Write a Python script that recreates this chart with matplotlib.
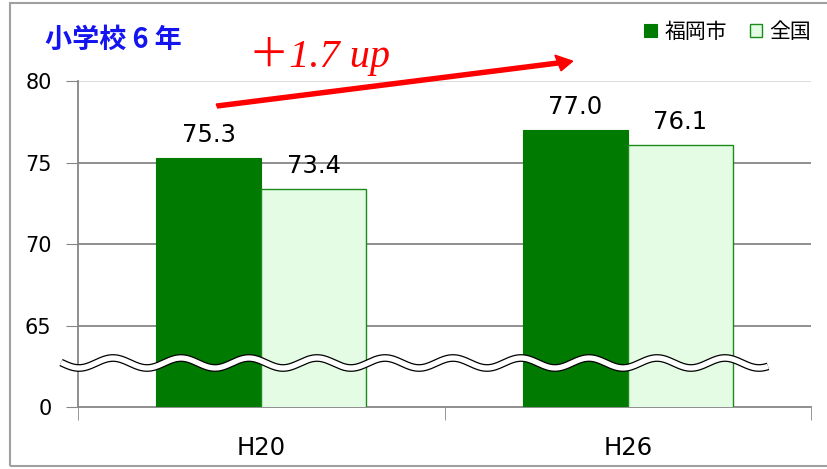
import matplotlib
matplotlib.use("Agg")
import matplotlib.pyplot as plt
import matplotlib.patches as mpatches
import numpy as np

plt.rcParams['font.family'] = ['DejaVu Sans', 'Noto Sans CJK JP']

categories = ['H20', 'H26']
fukuoka = [75.3, 77.0]
national = [73.4, 76.1]
series_names = ['福岡市', '全国']
ytick_values = [60, 65, 70, 75, 80]
ytick_labels = ['0', '65', '70', '75', '80']
title = '小学校 6 年'
diff_text = '＋1.7 up'

dark = '#007A00'
light = '#E3FCE3'

fig = plt.figure(figsize=(8.27, 4.69), dpi=100)
W, H = 827, 469
ax = fig.add_axes([78 / W, 1 - 407 / H, 733 / W, 326 / H])

x = np.arange(len(categories))
bw = 0.287
ax.bar(x - bw / 2, fukuoka, bw, bottom=0, color=dark, edgecolor=dark,
       linewidth=0.8, zorder=3, label=series_names[0])
ax.bar(x + bw / 2, national, bw, bottom=0, color=light, edgecolor='#1A8A1A',
       linewidth=1.0, zorder=3, label=series_names[1])

for xi, v in zip(x - bw / 2, fukuoka):
    ax.annotate(f'{v:.1f}', (xi, v), xytext=(0, 11.5), textcoords='offset points',
                ha='center', va='baseline', fontsize=17.5)
for xi, v in zip(x + bw / 2, national):
    ax.annotate(f'{v:.1f}', (xi, v), xytext=(0, 11.5), textcoords='offset points',
                ha='center', va='baseline', fontsize=17.5)

ax.set_xlim(-0.5, len(categories) - 0.5)
ax.set_ylim(60, 80)
ax.set_yticks(ytick_values)
ax.set_yticklabels(ytick_labels)
ax.set_xticks(x)
ax.set_xticklabels(categories)
ax.set_xticks(np.arange(len(categories) + 1) - 0.5, minor=True)

ax.tick_params(axis='y', length=9, color='#868686', labelsize=15, pad=10)
ax.tick_params(axis='x', which='major', length=0, labelsize=17.5, pad=21)
ax.tick_params(axis='x', which='minor', length=9, color='#868686')

for yv in ytick_values[1:-1]:
    ax.axhline(yv, color='#868686', linewidth=1.3, zorder=1)
ax.axhline(ytick_values[-1], color='#D9D9D9', linewidth=1.3, zorder=1)

for s in ['top', 'right']:
    ax.spines[s].set_visible(False)
for s in ['left', 'bottom']:
    ax.spines[s].set_color('#868686')
    ax.spines[s].set_linewidth(1.3)

# axis break wave
px = 366.5
wx_pix = np.linspace(61, 768, 600)
wx = -0.5 + (wx_pix - 78) / px
wy = 62.7 + (5 / 16.3) * np.cos(2 * np.pi * (wx_pix - 113) / 68)
ax.plot(wx, wy, color='black', linewidth=5.6, solid_capstyle='butt',
        zorder=5, clip_on=False)
ax.plot(wx, wy, color='white', linewidth=3.8, solid_capstyle='butt',
        zorder=6, clip_on=False)

# title and annotation
fig.text(45 / W, 1 - 40 / H, title, fontsize=19.5, fontweight='bold',
         color='#1414F0', family=['Noto Sans CJK JP'], va='center', ha='left')
fig.text(249 / W, 1 - 57 / H, diff_text, fontsize=29, style='italic',
         color='#FF0000', family=['Liberation Serif', 'Noto Sans CJK JP'],
         va='center', ha='left')
fig.patches.append(mpatches.FancyArrow(
    217 / W, 1 - 106 / H, (573 - 217 - 15) / W, (106 - 61 - 2) / H,
    width=4 / H, head_width=16 / H, head_length=15 / W,
    length_includes_head=False, color='#FF0000', transform=fig.transFigure))

# legend
fig.legend(loc='center right', bbox_to_anchor=(830 / W, 1 - 32 / H), ncol=2,
           frameon=False, handlelength=0.6, handleheight=0.6,
           handletextpad=0.35, columnspacing=1.1,
           prop={'family': ['Noto Sans CJK JP'], 'size': 15})

# outer frame
fig.patches.append(mpatches.Rectangle((10 / W, 3 / H), 830 / W, 463 / H,
                                      fill=False, edgecolor='#A0A0A0',
                                      linewidth=1.5, transform=fig.transFigure))

fig.savefig('out.png', dpi=100)
